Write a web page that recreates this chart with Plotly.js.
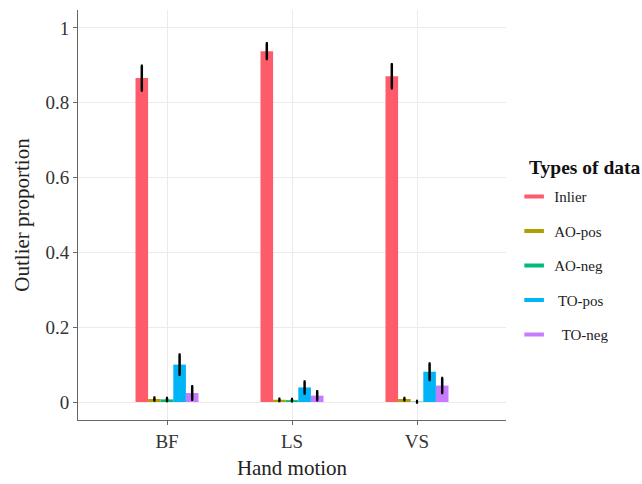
<!DOCTYPE html>
<html>
<head>
<meta charset="utf-8">
<script src="https://cdn.plot.ly/plotly-3.0.1.min.js"></script>
<style>html,body{margin:0;padding:0;background:#fff;}</style>
</head>
<body>
<div id="chart" style="width:642px;height:484px;"></div>
<script>
const categories = ["BF", "LS", "VS"];
const seriesNames = ["Inlier", "AO-pos", "AO-neg", "TO-pos", "TO-neg"];
const legendLabels = ["Inlier", "AO-pos", "AO-neg", "\u00a0TO-pos", "\u00a0\u00a0TO-neg"];
const legendTitle = "Types of data";
const inlier = [0.866, 0.938, 0.871];
const inlierErr = [0.033, 0.021, 0.032];
const aoPos = [0.008, 0.006, 0.008];
const aoPosErr = [0.004, 0.003, 0.003];
const aoNeg = [0.007, 0.005, 0.001];
const aoNegErr = [0.004, 0.003, 0.002];
const toPos = [0.100, 0.039, 0.081];
const toPosErr = [0.027, 0.016, 0.022];
const toNeg = [0.024, 0.017, 0.044];
const toNegErr = [0.018, 0.012, 0.020];
const colors = ["#FF5C6B", "#B09F00", "#00BB7D", "#00B4F6", "#C77CFF"];

const values = [inlier, aoPos, aoNeg, toPos, toNeg];
const errs = [inlierErr, aoPosErr, aoNegErr, toPosErr, toNegErr];

const traces = [];
seriesNames.forEach((name, i) => {
  traces.push({
    type: "bar",
    name: name,
    x: categories,
    y: values[i],
    marker: {color: colors[i]},
    error_y: {type: "data", array: errs[i], visible: true, color: "#000000", thickness: 2.5, width: 1},
    showlegend: false
  });
});
seriesNames.forEach((name, i) => {
  traces.push({
    type: "scatter",
    mode: "markers",
    name: legendLabels[i],
    x: [null],
    y: [null],
    legendgroup: "g" + i,
    marker: {symbol: "line-ew-open", size: 14, line: {color: colors[i], width: 4}, color: colors[i]},
    showlegend: true
  });
});

const font = "Liberation Serif, Times New Roman, serif";
const layout = {
  width: 642, height: 484,
  margin: {l: 78, r: 136, t: 10, b: 64},
  paper_bgcolor: "#ffffff",
  plot_bgcolor: "#ffffff",
  barmode: "group",
  bargap: 0.496,
  bargroupgap: 0,
  font: {family: font, color: "#222222"},
  xaxis: {
    type: "category",
    range: [-0.712, 2.712],
    showgrid: true, gridcolor: "#EBEBEB", gridwidth: 1,
    showline: true, linecolor: "#666666", linewidth: 1,
    ticks: "outside", ticklen: 4, tickcolor: "#666666",
    tickfont: {family: font, size: 19, color: "#333333"},
    title: {text: "Hand motion", font: {family: font, size: 21, color: "#222222"}, standoff: 9},
    zeroline: false
  },
  yaxis: {
    range: [-0.0481, 1.048],
    tickvals: [0, 0.2, 0.4, 0.6, 0.8, 1],
    ticktext: ["0", "0.2", "0.4", "0.6", "0.8", "1"],
    showgrid: true, gridcolor: "#EBEBEB", gridwidth: 1,
    showline: true, linecolor: "#666666", linewidth: 1,
    ticks: "outside", ticklen: 4, tickcolor: "#666666",
    tickfont: {family: font, size: 19, color: "#333333"},
    title: {text: "Outlier proportion", font: {family: font, size: 21, color: "#222222"}, standoff: 10},
    zeroline: false
  },
  legend: {
    x: 1.019, xanchor: "left",
    y: 0.585, yanchor: "top",
    font: {family: font, size: 15, color: "#222222"},
    tracegroupgap: 12,
    bgcolor: "rgba(0,0,0,0)"
  },
  annotations: [{
    text: "<b>" + legendTitle + "</b>",
    xref: "paper", yref: "paper",
    x: (527 - 78) / 428, y: (420 - 167) / 410,
    xanchor: "left", yanchor: "middle",
    showarrow: false,
    font: {family: font, size: 19.5, color: "#111111"}
  }]
};

Plotly.newPlot("chart", traces, layout, {displayModeBar: false, staticPlot: true});
</script>
</body>
</html>
